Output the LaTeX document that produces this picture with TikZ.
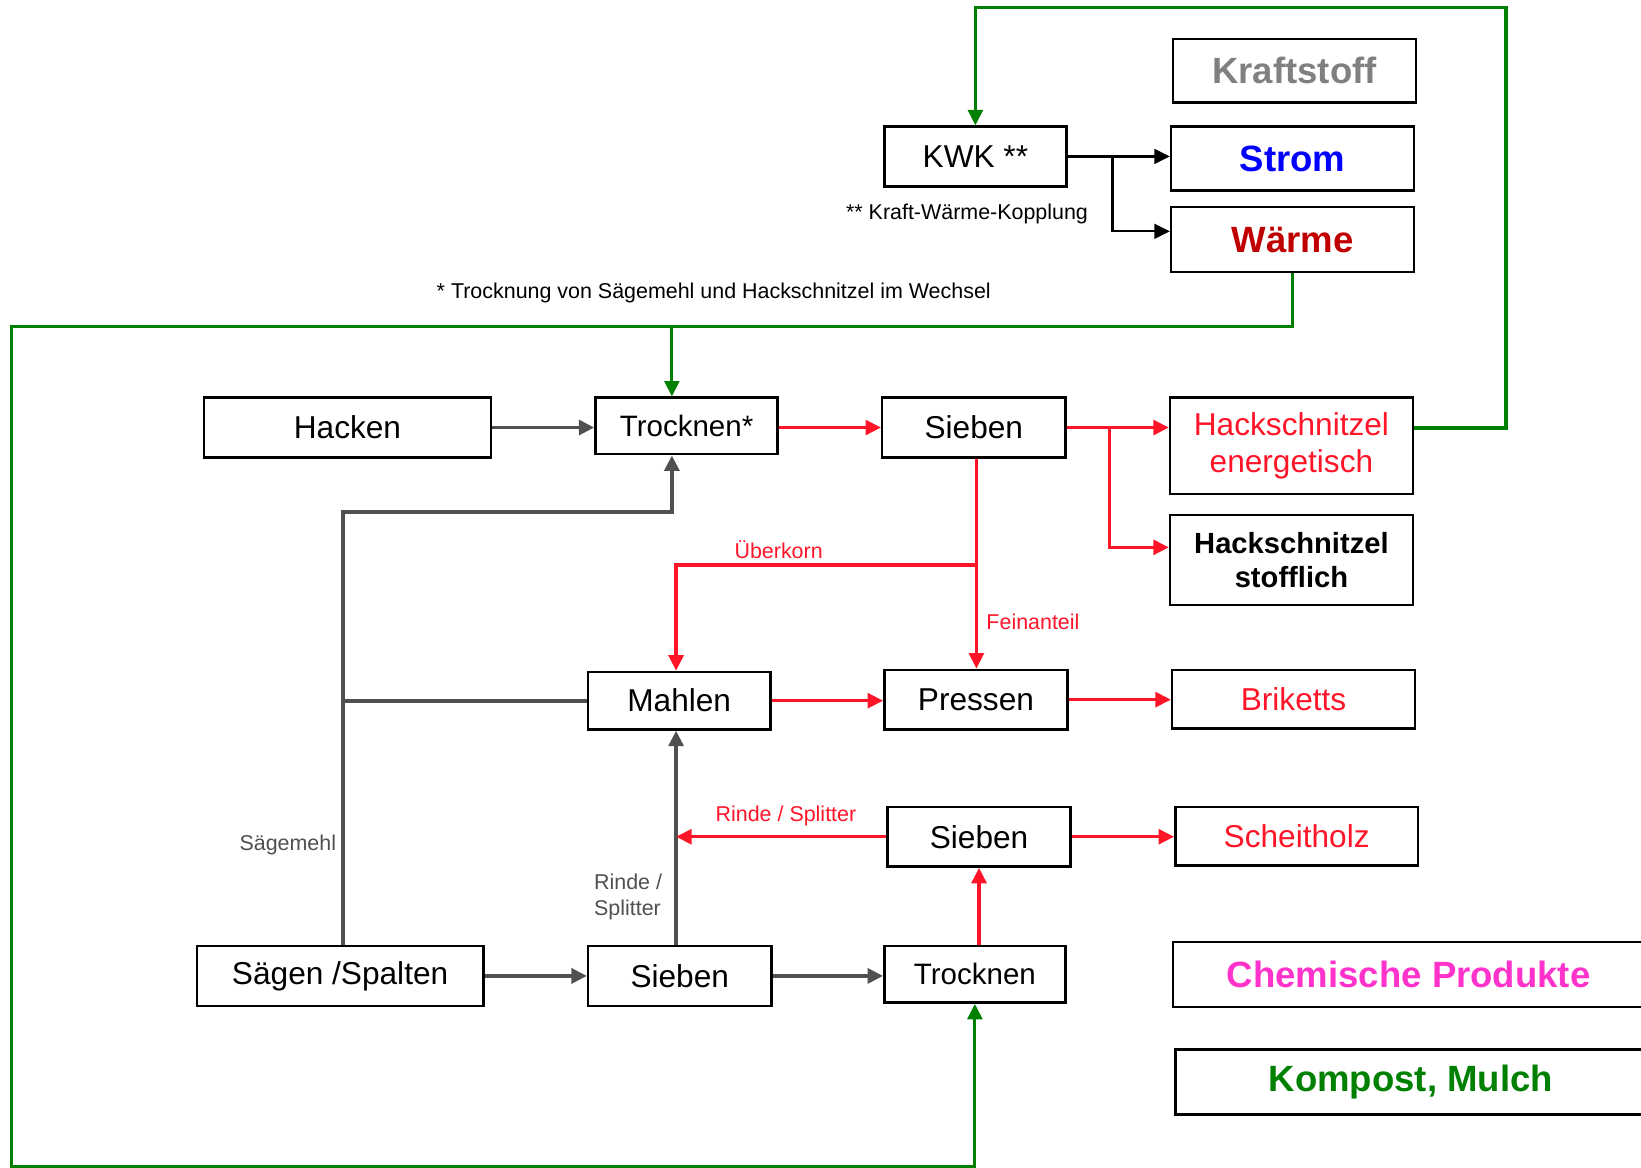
\documentclass[tikz,border=0pt]{standalone}
\usepackage{fontspec}
\setmainfont{Liberation Sans}
\usepackage{tikz}
\usetikzlibrary{arrows.meta}
\definecolor{flowred}{RGB}{255,20,40}
\definecolor{flowgray}{RGB}{80,80,80}
\definecolor{flowgreen}{RGB}{0,128,0}
\definecolor{heatred}{RGB}{192,0,0}
\definecolor{chempink}{RGB}{255,51,204}
\newcommand{\pxu}{0.010466cm}
\newcommand{\boxfont}{\fontsize{9pt}{10.8pt}\selectfont}
\newcommand{\bigfont}{\fontsize{10.4pt}{12pt}\bfseries\selectfont}
\newcommand{\lblfont}{\fontsize{6.1pt}{7.4pt}\selectfont}

\begin{document}
\begin{tikzpicture}[x=\pxu, y=-\pxu,
  box/.style={draw, line width=0.7pt, inner sep=0pt, font=\boxfont},
  lbl/.style={inner sep=0pt, font=\lblfont},
  tip/.style={-{Triangle[length=4.4pt,width=4.2pt]}},
  grayflow/.style={flowgray, line width=1.1pt},
  redflow/.style={flowred, line width=0.95pt},
  greenflow/.style={flowgreen, line width=0.9pt},
  blackflow/.style={black, line width=0.6pt}]
  \useasboundingbox (0,0) rectangle (1568,1116);

  % Products on the right
  \node[box, minimum width=232*\pxu, minimum height=61*\pxu, font=\bigfont, text=gray] (kraft) at (1237,67.5) {Kraftstoff};
  \node[box, minimum width=232*\pxu, minimum height=61*\pxu, font=\bigfont, text=blue] (strom) at (1235,151.5) {Strom};
  \node[box, minimum width=232*\pxu, minimum height=62*\pxu, font=\bigfont, text=heatred] (waerme) at (1235,229) {Wärme};
  \node[box, minimum width=232*\pxu, minimum height=92*\pxu, text=flowred, align=center, font=\fontsize{9pt}{10.7pt}\selectfont] (hsenerg) at (1234,426) {Hackschnitzel\\energetisch};
  \node[box, minimum width=232*\pxu, minimum height=86*\pxu, align=center, font=\fontsize{8.3pt}{9.8pt}\bfseries\selectfont] (hsstoff) at (1234,535) {Hackschnitzel\\stofflich};
  \node[box, minimum width=232*\pxu, minimum height=56*\pxu, text=flowred] (briketts) at (1236,668) {Briketts};
  \node[box, minimum width=232*\pxu, minimum height=56*\pxu, text=flowred] (scheit) at (1239,799) {Scheitholz};
  \node[box, minimum width=450*\pxu, minimum height=62*\pxu, font=\bigfont, text=chempink] (chem) at (1346,931) {Chemische Produkte};
  \node[box, minimum width=450*\pxu, minimum height=62*\pxu, font=\bigfont, text=flowgreen] (kompost) at (1348,1034) {Kompost, Mulch};

  % Process steps
  \node[box, minimum width=174*\pxu, minimum height=57*\pxu] (kwk) at (932,149.5) {KWK **};
  \node[box, minimum width=274*\pxu, minimum height=57*\pxu] (hacken) at (332,408.5) {Hacken};
  \node[box, minimum width=174*\pxu, minimum height=54*\pxu, font=\fontsize{8.4pt}{10pt}\selectfont] (trock1) at (656,407) {Trocknen*};
  \node[box, minimum width=175*\pxu, minimum height=57*\pxu] (sieb1) at (930.5,408.5) {Sieben};
  \node[box, minimum width=174*\pxu, minimum height=55*\pxu] (mahlen) at (649,669.5) {Mahlen};
  \node[box, minimum width=175*\pxu, minimum height=57*\pxu] (pressen) at (932.5,668.5) {Pressen};
  \node[box, minimum width=175*\pxu, minimum height=57*\pxu] (sieb2) at (935.5,799.5) {Sieben};
  \node[box, minimum width=274*\pxu, minimum height=57*\pxu] (saegen) at (325,932.5) {Sägen /Spalten};
  \node[box, minimum width=175*\pxu, minimum height=57*\pxu] (sieb3) at (649.5,932.5) {Sieben};
  \node[box, minimum width=173*\pxu, minimum height=54*\pxu, font=\fontsize{8.4pt}{10pt}\selectfont] (trock2) at (931.5,931) {Trocknen};

  % Footnotes
  \node[lbl] (fnkwk) at (924,204) {** Kraft-Wärme-Kopplung};
  \node[lbl] (fntrock) at (682,280) {* Trocknung von Sägemehl und Hackschnitzel im Wechsel};

  % Helper points
  \coordinate (kwkfork) at (1063,150);
  \coordinate (loopright) at (1439,409);
  \coordinate (looptop) at (1439,7);
  \coordinate (heatleft) at (11,312);
  \coordinate (heatdrop) at (642,312);
  \coordinate (heatbottom) at (11,1115);
  \coordinate (sawcol) at (328,0);
  \coordinate (millcol) at (646,0);
  \coordinate (sawbend) at (642,489);
  \coordinate (sievefork) at (1060,409);
  \coordinate (overfork) at (933,540);

  % Heat and power
  \draw[blackflow, tip] (kwk.east) -- (kwk.east -| strom.west);
  \draw[blackflow, tip] (kwkfork) |- (waerme.west |- 0,221);
  \draw[greenflow, tip] (hsenerg.east |- loopright) -- (loopright) -- (looptop) -| (kwk.north);
  \draw[greenflow] (waerme.south) |- (heatleft) -- (heatbottom) -| (trock2.south |- 0,1110);
  \draw[greenflow, tip] (trock2.south |- 0,1110) -- (trock2.south);
  \draw[greenflow, tip] (heatdrop) -- (heatdrop |- trock1.north);

  % Chips line
  \draw[grayflow, tip] (hacken.east) -- (hacken.east -| trock1.west);
  \draw[redflow, tip] (trock1.east |- sieb1.east) -- (sieb1.west);
  \draw[redflow, tip] (sieb1.east) -- (sieb1.east -| hsenerg.west);
  \draw[redflow, tip] (sievefork) |- (hsstoff.west |- 0,523);
  \draw[redflow, tip] (sieb1.south -| overfork) -- (overfork |- pressen.north);
  \draw[redflow, tip] (overfork) -| (millcol |- mahlen.north);
  \node[lbl, text=flowred] (ueber) at (744,525) {Überkorn};
  \node[lbl, text=flowred] (fein) at (987,594) {Feinanteil};

  % Pellets / briquettes
  \draw[redflow, tip] (mahlen.east) -- (mahlen.east -| pressen.west);
  \draw[redflow, tip] (pressen.east) -- (pressen.east -| briketts.west);

  % Sawing line
  \draw[grayflow, tip] (sawcol |- saegen.north) |- (sawbend) -- (sawbend |- trock1.south);
  \draw[grayflow] (sawcol |- mahlen.west) -- (mahlen.west);
  \node[lbl, text=flowgray] (saegemehl) at (275,807) {Sägemehl};
  \draw[grayflow, tip] (saegen.east) -- (saegen.east -| sieb3.west);
  \draw[grayflow, tip] (sieb3.east) -- (sieb3.east -| trock2.west);
  \draw[grayflow, tip] (millcol |- sieb3.north) -- (millcol |- mahlen.south);
  \node[lbl, text=flowgray, align=left, anchor=west] (rindegray) at (567,857) {Rinde /\\Splitter};
  \draw[redflow, tip] (sieb2.south |- trock2.north) -- (sieb2.south);
  \draw[redflow, tip] (sieb2.west) -- (sieb2.west -| millcol);
  \node[lbl, text=flowred] (rindered) at (751,780) {Rinde / Splitter};
  \draw[redflow, tip] (sieb2.east) -- (sieb2.east -| scheit.west);

\end{tikzpicture}
\end{document}
